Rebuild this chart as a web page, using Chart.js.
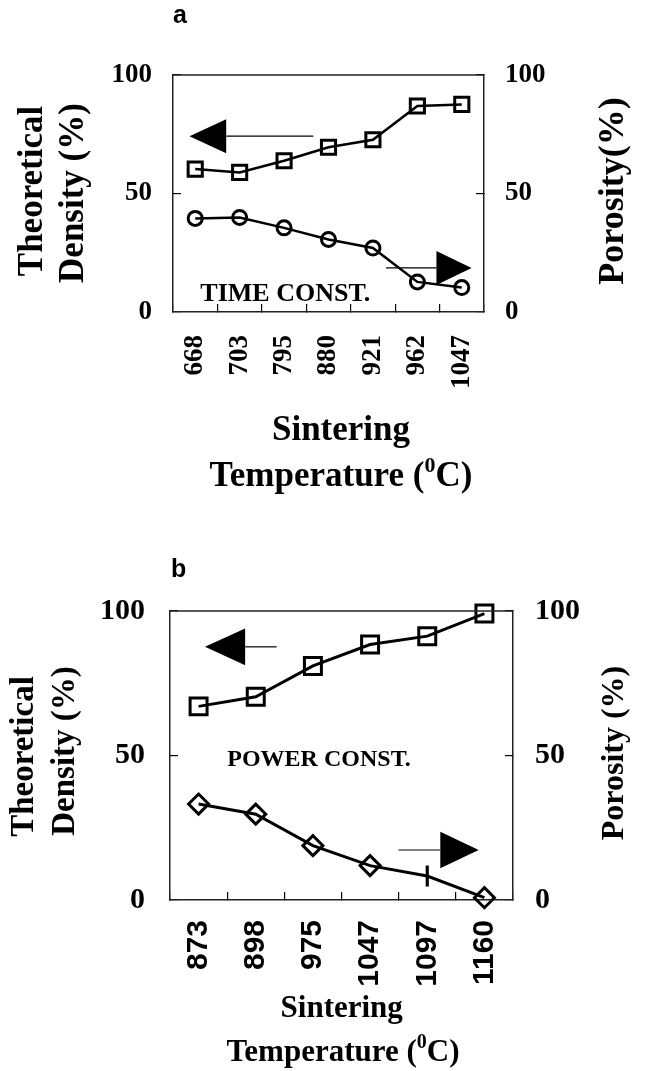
<!DOCTYPE html>
<html>
<head>
<meta charset="utf-8">
<script src="https://cdn.jsdelivr.net/npm/chart.js@4.4.1/dist/chart.umd.min.js"></script>
<style>
  html, body { margin: 0; padding: 0; background: #fff; }
  #wrap { position: relative; width: 645px; height: 1071px; overflow: hidden; background: #fff; }
  canvas { position: absolute; left: 0; }
  #c1 { top: 0; }
  #c2 { top: 540px; }
</style>
</head>
<body>
<div id="wrap">
  <canvas id="c1" width="645" height="520"></canvas>
  <canvas id="c2" width="645" height="531"></canvas>
</div>
<script>
// ---- Data (panel a: time constant) ----
const topCategories = ['668', '703', '795', '880', '921', '962', '1047'];
const topDensity = [60.3, 58.9, 63.8, 69.5, 72.7, 86.9, 87.6];
const topPorosity = [39.5, 39.9, 35.5, 30.6, 27.0, 12.7, 10.3];

// ---- Data (panel b: power constant) ----
const bottomCategories = ['873', '898', '975', '1047', '1097', '1160'];
const bottomDensity = [67.0, 70.3, 81.0, 88.4, 91.3, 99.1];
const bottomPorosity = [33.2, 29.7, 18.8, 11.9, 8.3, 0.8];

// ---- Axis tick values ----
const yMin = 0, yMax = 100, yStep = 50;

const SERIF = '"Liberation Serif", "Times New Roman", Times, serif';
const SANS = '"Liberation Sans", Arial, Helvetica, sans-serif';
const FRAME = '#222';

function decorPlugin(cfg) {
  return {
    id: 'decor',
    afterDraw(chart) {
      const ctx = chart.ctx, a = chart.chartArea;
      const ys = chart.scales.y;
      const px = f => a.left + f * (a.right - a.left);
      ctx.save();
      // top border of the frame
      ctx.strokeStyle = FRAME; ctx.lineWidth = 1.5;
      ctx.beginPath(); ctx.moveTo(a.left, a.top); ctx.lineTo(a.right, a.top); ctx.stroke();

      ctx.fillStyle = '#000'; ctx.strokeStyle = '#000';
      // panel letter
      ctx.font = cfg.letterFont; ctx.textAlign = 'left'; ctx.textBaseline = 'alphabetic';
      ctx.fillText(cfg.letter, cfg.letterX, cfg.letterY);

      // arrows
      cfg.arrows.forEach(ar => {
        const y = ys.getPixelForValue(ar.v);
        const tip = px(ar.tip), base = px(ar.base), tail = px(ar.tail);
        ctx.lineWidth = 1.2;
        ctx.beginPath(); ctx.moveTo(base, y); ctx.lineTo(tail, y); ctx.stroke();
        ctx.beginPath(); ctx.moveTo(tip, y); ctx.lineTo(base, y - ar.h); ctx.lineTo(base, y + ar.h); ctx.closePath(); ctx.fill();
      });

      // in-plot note
      ctx.font = cfg.noteFont; ctx.textAlign = 'left';
      ctx.fillText(cfg.note, px(cfg.noteX), ys.getPixelForValue(cfg.noteV));

      // rotated axis titles
      cfg.sideTitles.forEach(t => {
        ctx.save();
        ctx.translate(t.x, t.cy);
        ctx.rotate(-Math.PI / 2);
        ctx.font = t.font; ctx.textAlign = 'center'; ctx.textBaseline = 'alphabetic';
        ctx.fillText(t.text, 0, 0);
        ctx.restore();
      });

      // x title
      const xt = cfg.xTitle;
      ctx.font = xt.font; ctx.textAlign = 'center';
      ctx.fillText(xt.line1, xt.cx1, xt.y1);
      ctx.textAlign = 'left';
      const w1 = ctx.measureText(xt.pre).width;
      ctx.font = xt.supFont; const w2 = ctx.measureText(xt.sup).width;
      ctx.font = xt.font; const w3 = ctx.measureText(xt.post).width;
      let x0 = xt.cx2 - (w1 + w2 + w3) / 2;
      ctx.fillText(xt.pre, x0, xt.y2);
      ctx.font = xt.supFont; ctx.fillText(xt.sup, x0 + w1, xt.y2 - xt.supRise);
      ctx.font = xt.font; ctx.fillText(xt.post, x0 + w1 + w2, xt.y2);
      ctx.restore();
    }
  };
}

function makeChart(el, o) {
  const tickFontY = { family: SERIF, size: o.yTickSize, weight: 'bold' };
  const gridCfg = { drawOnChartArea: false, color: '#000', tickLength: -8, lineWidth: 1.2 };
  const borderCfg = { display: true, color: FRAME, width: 1.5 };
  return new Chart(el, {
    type: 'line',
    data: {
      labels: o.labels,
      datasets: [
        {
          label: 'Theoretical Density (%)', data: o.density, yAxisID: 'y',
          borderColor: '#000', borderWidth: o.lineWidth, tension: 0, fill: false, clip: false,
          pointStyle: 'rect', pointRadius: o.rectRadius, pointBorderWidth: 3,
          pointBorderColor: '#000', pointBackgroundColor: 'rgba(0,0,0,0)'
        },
        {
          label: 'Porosity (%)', data: o.porosity, yAxisID: 'y2',
          borderColor: '#000', borderWidth: o.lineWidth, tension: 0, fill: false, clip: false,
          pointStyle: o.poroStyle, pointRotation: o.poroRotation || 0,
          pointRadius: o.poroRadius, pointBorderWidth: o.poroBorder || 3,
          pointBorderColor: '#000', pointBackgroundColor: 'rgba(0,0,0,0)'
        }
      ]
    },
    options: {
      responsive: false, animation: false, devicePixelRatio: 1, events: [],
      layout: { padding: { top: o.top, left: 0, right: 0, bottom: 0 } },
      plugins: { legend: { display: false }, tooltip: { enabled: false }, title: { display: false } },
      scales: {
        x: {
          type: 'category', offset: true, position: 'bottom',
          grid: Object.assign({ offset: true }, gridCfg),
          border: borderCfg,
          ticks: {
            autoSkip: false, minRotation: 90, maxRotation: 90, padding: o.xPad,
            color: '#000', font: o.xTickFont
          },
          afterFit: s => { s.height = o.xHeight; }
        },
        y: {
          position: 'left', min: yMin, max: yMax,
          grid: gridCfg, border: borderCfg,
          ticks: { stepSize: yStep, padding: o.yPadL, color: '#000', font: tickFontY },
          afterFit: s => { s.width = o.leftW; }
        },
        y2: {
          position: 'right', min: yMin, max: yMax,
          grid: gridCfg, border: borderCfg,
          ticks: { stepSize: yStep, padding: o.yPadR, color: '#000', font: tickFontY },
          afterFit: s => { s.width = o.rightW; }
        }
      }
    },
    plugins: [decorPlugin(o.decor)]
  });
}

// ---- Panel a ----
makeChart(document.getElementById('c1'), {
  labels: topCategories, density: topDensity, porosity: topPorosity,
  top: 75, xHeight: 208, leftW: 173, rightW: 161,
  xPad: 31, yPadL: 29, yPadR: 29, yTickSize: 27,
  xTickFont: { family: SERIF, size: 27, weight: 'bold' },
  lineWidth: 2.5, rectRadius: 10, poroStyle: 'circle', poroRadius: 7,
  decor: {
    letter: 'a', letterFont: 'bold 25px ' + SANS, letterX: 173, letterY: 22.5,
    arrows: [
      { v: 74.2, tip: 0.053, base: 0.171, tail: 0.451, h: 17 },
      { v: 18.6, tip: 0.96, base: 0.847, tail: 0.685, h: 17 }
    ],
    note: 'TIME CONST.', noteFont: 'bold 26px ' + SERIF, noteX: 0.088, noteV: 4.5,
    sideTitles: [
      { text: 'Theoretical', x: 41.5, cy: 191, font: 'bold 35px ' + SERIF },
      { text: 'Density (%)', x: 83, cy: 193, font: 'bold 35px ' + SERIF },
      { text: 'Porosity(%)', x: 623, cy: 191, font: 'bold 36px ' + SERIF }
    ],
    xTitle: {
      font: 'bold 35px ' + SERIF, supFont: 'bold 22px ' + SERIF, supRise: 14,
      line1: 'Sintering', cx1: 341, y1: 440,
      pre: 'Temperature (', sup: '0', post: 'C)', cx2: 341, y2: 486
    }
  }
});

// ---- Panel b ----
makeChart(document.getElementById('c2'), {
  labels: bottomCategories, density: bottomDensity, porosity: bottomPorosity,
  top: 71, xHeight: 171, leftW: 170, rightW: 132,
  xPad: 28, yPadL: 33, yPadR: 30, yTickSize: 30,
  xTickFont: { family: SANS, size: 30, weight: 'bold' },
  lineWidth: 3, rectRadius: 12,
  poroStyle: c => (c.dataIndex === 4 ? 'line' : 'rectRot'),
  poroRotation: c => (c.dataIndex === 4 ? 90 : 0),
  poroRadius: c => (c.dataIndex === 4 ? 10.5 : 10),
  poroBorder: c => (c.dataIndex === 4 ? 3.2 : 3),
  decor: {
    letter: 'b', letterFont: 'bold 25px ' + SANS, letterX: 171, letterY: 36.5,
    arrows: [
      { v: 87.6, tip: 0.102, base: 0.219, tail: 0.311, h: 18.3 },
      { v: 17.3, tip: 0.9, base: 0.788, tail: 0.666, h: 18.3 }
    ],
    note: 'POWER CONST.', noteFont: 'bold 24px ' + SERIF, noteX: 0.167, noteV: 46.3,
    sideTitles: [
      { text: 'Theoretical', x: 33.3, cy: 216.5, font: 'bold 33px ' + SERIF },
      { text: 'Density (%)', x: 74, cy: 211, font: 'bold 33px ' + SERIF },
      { text: 'Porosity (%)', x: 622.5, cy: 213, font: 'bold 32px ' + SERIF }
    ],
    xTitle: {
      font: 'bold 31px ' + SERIF, supFont: 'bold 20px ' + SERIF, supRise: 13,
      line1: 'Sintering', cx1: 341.7, y1: 476.7,
      pre: 'Temperature (', sup: '0', post: 'C)', cx2: 343, y2: 521
    }
  }
});
</script>
</body>
</html>
